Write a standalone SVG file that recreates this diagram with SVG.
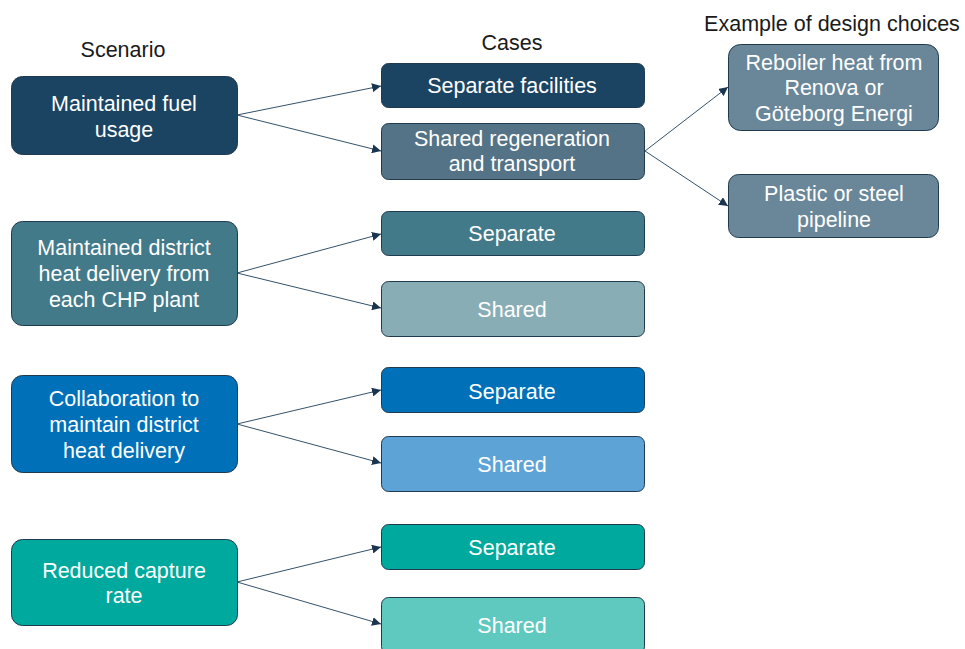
<svg xmlns="http://www.w3.org/2000/svg" width="965" height="649" viewBox="0 0 965 649">
<style>
.h{font-family:"Liberation Sans",Arial,sans-serif;font-size:21.5px;fill:#1a1a1a;text-anchor:middle}
.t{font-family:"Liberation Sans",Arial,sans-serif;font-size:21.5px;fill:#ffffff;text-anchor:middle}
.n{stroke:#203a50;stroke-width:1}
.c{stroke:#34526a;stroke-width:1;fill:none;marker-end:url(#ah)}
</style>
<defs>
<marker id="ah" viewBox="0 0 10 10" refX="10" refY="5" markerWidth="9" markerHeight="9" markerUnits="userSpaceOnUse" orient="auto">
<path d="M0,0 L10,5 L0,10 z" fill="#1b3550"/>
</marker>
</defs>
<rect width="965" height="649" fill="#ffffff"/>
<text class="h" x="123" y="57">Scenario</text>
<text class="h" x="512" y="50">Cases</text>
<text class="h" x="832" y="31">Example of design choices</text>

<g id="connectors">
<line class="c" x1="237" y1="115" x2="381" y2="86"/>
<line class="c" x1="237" y1="115" x2="381" y2="151"/>
<line class="c" x1="237" y1="273" x2="381" y2="234"/>
<line class="c" x1="237" y1="273" x2="381" y2="308"/>
<line class="c" x1="237" y1="424" x2="381" y2="390"/>
<line class="c" x1="237" y1="424" x2="381" y2="463"/>
<line class="c" x1="237" y1="582" x2="381" y2="547"/>
<line class="c" x1="237" y1="582" x2="381" y2="624"/>
<line class="c" x1="645" y1="151" x2="728" y2="87"/>
<line class="c" x1="645" y1="151" x2="728" y2="206"/>
</g>

<g id="s1"><rect class="n" x="11.5" y="76.5" width="226" height="78" rx="11" fill="#1b4462"/>
<text class="t" x="124" y="111">Maintained fuel</text><text class="t" x="124" y="137">usage</text></g>
<g id="s2"><rect class="n" x="11.5" y="221.5" width="226" height="104" rx="11" fill="#437a8a"/>
<text class="t" x="124" y="255">Maintained district</text><text class="t" x="124" y="281">heat delivery from</text><text class="t" x="124" y="307">each CHP plant</text></g>
<g id="s3"><rect class="n" x="11.5" y="375.5" width="226" height="97" rx="11" fill="#0070b8"/>
<text class="t" x="124" y="406">Collaboration to</text><text class="t" x="124" y="432">maintain district</text><text class="t" x="124" y="458">heat delivery</text></g>
<g id="s4"><rect class="n" x="11.5" y="539.5" width="226" height="86" rx="11" fill="#00a99d"/>
<text class="t" x="124" y="578">Reduced capture</text><text class="t" x="124" y="603">rate</text></g>

<g id="c1"><rect class="n" x="381.5" y="63.5" width="263" height="44" rx="7" fill="#1b4462"/>
<text class="t" x="512" y="93">Separate facilities</text></g>
<g id="c2"><rect class="n" x="381.5" y="123.5" width="263" height="56" rx="7" fill="#547386"/>
<text class="t" x="512" y="146">Shared regeneration</text><text class="t" x="512" y="171">and transport</text></g>
<g id="c3"><rect class="n" x="381.5" y="211.5" width="263" height="44" rx="7" fill="#437a8a"/>
<text class="t" x="512" y="241">Separate</text></g>
<g id="c4"><rect class="n" x="381.5" y="281.5" width="263" height="55" rx="7" fill="#88adb5"/>
<text class="t" x="512" y="317">Shared</text></g>
<g id="c5"><rect class="n" x="381.5" y="367.5" width="263" height="45" rx="7" fill="#0070b8"/>
<text class="t" x="512" y="399">Separate</text></g>
<g id="c6"><rect class="n" x="381.5" y="436.5" width="263" height="55" rx="7" fill="#5ea3d6"/>
<text class="t" x="512" y="472">Shared</text></g>
<g id="c7"><rect class="n" x="381.5" y="524.5" width="263" height="45" rx="7" fill="#00a99d"/>
<text class="t" x="512" y="555">Separate</text></g>
<g id="c8"><rect class="n" x="381.5" y="597.5" width="263" height="56" rx="7" fill="#5fc8bf"/>
<text class="t" x="512" y="633">Shared</text></g>

<g id="d1"><rect class="n" x="728.5" y="44.5" width="210" height="86" rx="12" fill="#6a8799"/>
<text class="t" x="834" y="70">Reboiler heat from</text><text class="t" x="834" y="95">Renova or</text><text class="t" x="834" y="121">Göteborg Energi</text></g>
<g id="d2"><rect class="n" x="728.5" y="174.5" width="210" height="63" rx="10" fill="#6a8799"/>
<text class="t" x="834" y="201">Plastic or steel</text><text class="t" x="834" y="227">pipeline</text></g>
</svg>
